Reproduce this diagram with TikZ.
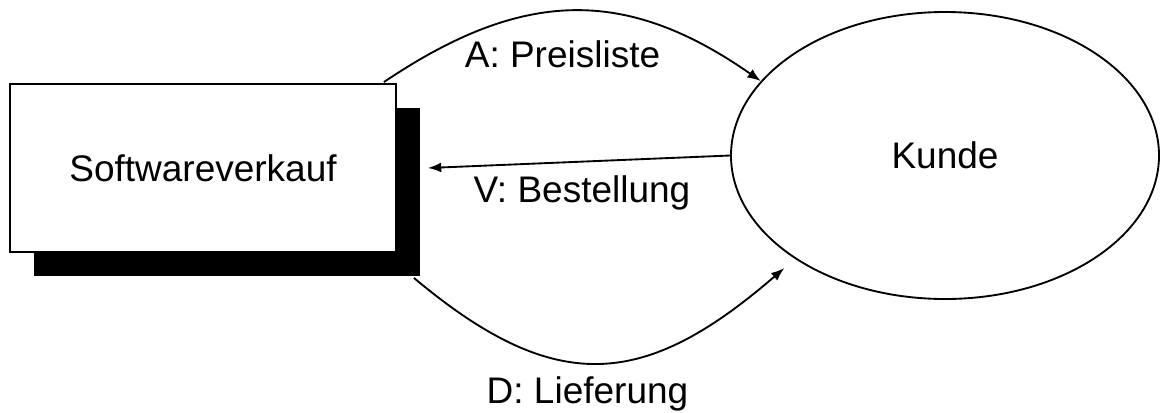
\documentclass[tikz,border=0pt]{standalone}
\usepackage{fontspec}
\setmainfont{Liberation Sans}
\usetikzlibrary{shapes.geometric,shadows,calc,arrows.meta}
\begin{document}
\begin{tikzpicture}[x=0.75pt,y=-0.75pt,
  txt/.style={font=\fontsize{27.75}{33}\selectfont},
  lbl/.style={txt, inner sep=0pt, anchor=base},
  conn/.style={line width=1.4pt, -{Latex[length=10pt,width=7.5pt]}},
  procbox/.style={txt, draw, line width=1.4pt, fill=white, minimum width=289.5pt,
    minimum height=126pt, inner sep=0pt,
    general shadow={fill=black, shadow xshift=18pt, shadow yshift=-18pt}},
  ent/.style={txt, ellipse, draw, line width=1.4pt, minimum width=321pt,
    minimum height=215.25pt, inner sep=0pt}]
\useasboundingbox (0,0) rectangle (1160,412);
\node[procbox] (sw) at (203,168) {Softwareverkauf};
\node[ent] (ku) at (945,155.5) {Kunde};
\node[lbl] (la) at (562.5,67) {A: Preisliste};
\node[lbl] (lv) at (582,202) {V: Bestellung};
\node[lbl] (ld) at (587.5,403) {D: Lieferung};
% A: Preisliste
\draw[conn] ($(sw.north east)+(-13,-1)$) .. controls +(138,-93) and +(-136,-95) .. (ku.158);
% V: Bestellung
\draw[conn] (ku.west) -- ($(sw.east)+(31,0)$);
% D: Lieferung
\draw[conn] ($(sw.south east)+(17,25)$) .. controls +(142,119) and +(-140,121) .. ($(ku.center)!1.08!(ku.215)$);
\end{tikzpicture}
\end{document}
